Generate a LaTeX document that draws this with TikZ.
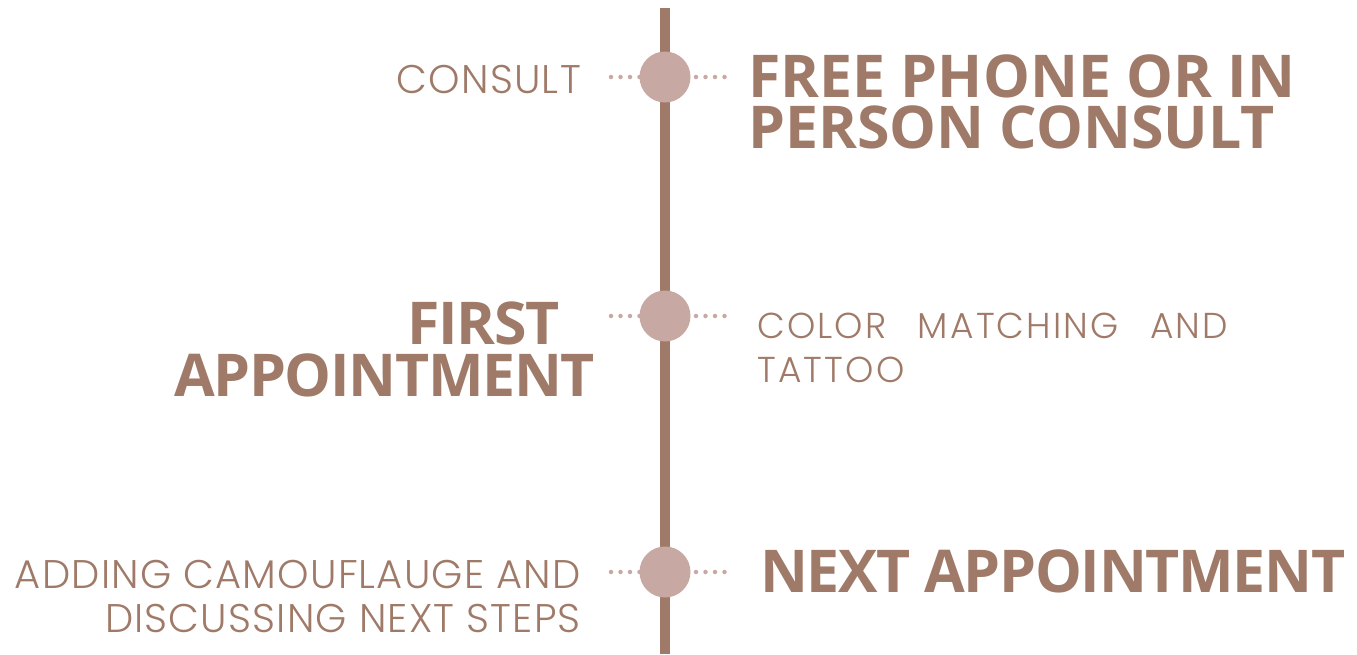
\documentclass[tikz,border=0pt]{standalone}
\usepackage{fontspec}
\newfontfamily\boldf{Open Sans}[UprightFont=* Bold]
\newfontfamily\boldtight{Open Sans}[UprightFont=* Bold,LetterSpace=-2.3]
\newfontfamily\lightf{Poppins Light}[LetterSpace=3]
\newfontfamily\lightwide{Poppins Light}[LetterSpace=6]
\definecolor{brown}{HTML}{A07A68}
\definecolor{rose}{HTML}{C8A8A2}
\begin{document}
\begin{tikzpicture}[x=1pt,y=-1pt,
  dot/.style={circle,fill=rose,inner sep=0,minimum size=4.5pt},
  milestone/.style={circle,fill=rose,inner sep=0,minimum size=51pt},
  big/.style={inner sep=0,text=brown,font=\boldf\fontsize{59}{51}\selectfont},
  bigtight/.style={big,font=\boldtight\fontsize{59}{52}\selectfont},
  small/.style={inner sep=0,text=brown,font=\lightf\fontsize{40}{44}\selectfont}]
\useasboundingbox (0,0) rectangle (1357,654);
\coordinate (top) at (665,8);
\coordinate (bot) at (665,654);
\draw[brown,line width=10pt] (top) -- (bot);
\foreach \n/\y in {a/77,b/316,c/572}{
  \node[milestone] (m\n) at (665,\y) {};
  \foreach \i in {0,1,2,3}{
    \node[dot] (l\n\i) at (611+9.5*\i,\y) {};
    \node[dot] (r\n\i) at (696+9.5*\i,\y) {};
  }
}
\node[small,anchor=north east] (consult) at (581,65) {CONSULT};
\node[big,anchor=north west,align=left] (free) at (748,55) {FREE PHONE OR IN\\PERSON CONSULT};
\node[bigtight,anchor=north east,align=right] (first) at (595,302) {FIRST\hspace*{35pt}\\APPOINTMENT};
\node[small,anchor=north west,align=left,font=\lightwide\fontsize{36}{44}\selectfont] (color) at (757,313) {\makebox[471pt][s]{COLOR MATCHING AND}\\TATTOO};
\node[small,anchor=north east,align=right] (adding) at (581,560) {ADDING CAMOUFLAUGE AND\\DISCUSSING NEXT STEPS};
\node[bigtight,anchor=north west] (next) at (760,550) {NEXT APPOINTMENT};
\end{tikzpicture}
\end{document}
